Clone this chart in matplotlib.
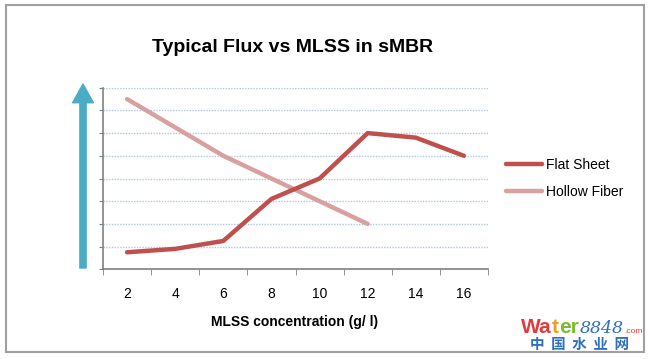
import matplotlib.pyplot as plt
from matplotlib.patches import Rectangle
from matplotlib.ticker import FixedLocator

# MLSS concentration (g/l) categories
mlss = ['2', '4', '6', '8', '10', '12', '14', '16']

# Typical flux (relative units)
flat_sheet = [0.75, 0.9, 1.25, 3.1, 4.0, 6.0, 5.8, 5.0]
hollow_fiber = [7.5, 6.25, 5.0, 4.0, 3.0, 2.0]

W, H = 650, 359
plt.rcParams['font.family'] = ['Liberation Sans', 'DejaVu Sans']

fig = plt.figure(figsize=(W / 100, H / 100), dpi=100)
ax = fig.add_axes([103 / W, 1 - 269.3 / H, (488 - 103) / W, (269.3 - 87.7) / H])

x_fs = range(len(flat_sheet))
x_hf = range(len(hollow_fiber))
ax.plot(x_fs, flat_sheet, color='#C0504D', lw=3.2, solid_capstyle='round',
        solid_joinstyle='round', label='Flat Sheet', zorder=3)
ax.plot(x_hf, hollow_fiber, color='#D9A0A0', lw=3.2, solid_capstyle='round',
        solid_joinstyle='round', label='Hollow Fiber', zorder=2)

ax.set_xlim(-0.5, len(mlss) - 0.5)
ax.set_ylim(0, 8)

# category labels in the middle, tick marks between categories
ax.set_xticks(range(len(mlss)))
ax.set_xticklabels(mlss, fontsize=10)
ax.xaxis.set_minor_locator(FixedLocator([i - 0.5 for i in range(len(mlss) + 1)]))
ax.tick_params(axis='x', which='major', length=0, pad=13)
ax.tick_params(axis='x', which='minor', length=4, color='#808080', direction='out')

ax.set_yticks(range(0, 9))
ax.set_yticklabels([])
ax.tick_params(axis='y', length=3, color='#808080', direction='out')

ax.grid(axis='y', color='#AEC6EA', linestyle=(0, (1, 1)), lw=1)
ax.set_axisbelow(True)
for s in ['top', 'right']:
    ax.spines[s].set_visible(False)
for s in ['left', 'bottom']:
    ax.spines[s].set_color('#808080')
    ax.spines[s].set_linewidth(1.2)

fig.text(293 / W, 1 - 48 / H, 'Typical Flux vs MLSS in sMBR', ha='center', va='center',
         fontsize=14, fontweight='bold')
fig.text(295 / W, 1 - 322 / H, 'MLSS concentration (g/ l)', ha='center', va='center',
         fontsize=10, fontweight='bold')

# blue arrow on the y axis side
ax.annotate('', xy=(83 / W, 1 - 84 / H), xytext=(83 / W, 1 - 268 / H),
            xycoords='figure fraction', textcoords='figure fraction',
            arrowprops=dict(arrowstyle='simple,head_length=0.9,head_width=1.0,tail_width=0.3',
                            color='#4BACC6', mutation_scale=15, shrinkA=0, shrinkB=0))

fig.legend(loc='center left', bbox_to_anchor=(506 / W, 1 - 178.5 / H), frameon=False,
           fontsize=10, handlelength=2.6, handletextpad=0.25, labelspacing=0.95,
           borderpad=0, borderaxespad=0)

# frame around the chart
fig.add_artist(Rectangle((6 / W, 1 - 352 / H), (644 - 6) / W, (352 - 5) / H,
                         transform=fig.transFigure, fill=False, ec='#A0A0A0', lw=1.5))

# watermark: pieces placed one after another
renderer = fig.canvas.get_renderer()
parts = [('Wa', '#E23B3B', {'fontsize': 15, 'fontweight': 'bold'}),
         ('t', '#F0A020', {'fontsize': 15, 'fontweight': 'bold'}),
         ('er', '#7DBB2E', {'fontsize': 15, 'fontweight': 'bold'}),
         ('8848', '#2E6FC0', {'fontsize': 12.5, 'style': 'italic', 'family': 'DejaVu Serif'}),
         ('.com', '#E23B3B', {'fontsize': 6})]
xw = 521
for txt, col, kw in parts:
    t = fig.text(xw / W, 1 - 333 / H, txt, color=col, ha='left', va='baseline', **kw)
    xw += t.get_window_extent(renderer).width + 0.5
fig.text(580 / W, 1 - 344 / H, '中  国  水  业  网', fontsize=10.5, fontweight='bold',
         color='#2E6FC0', ha='center', va='center', family=['Noto Sans CJK SC'])

fig.savefig('out.png', dpi=100)
